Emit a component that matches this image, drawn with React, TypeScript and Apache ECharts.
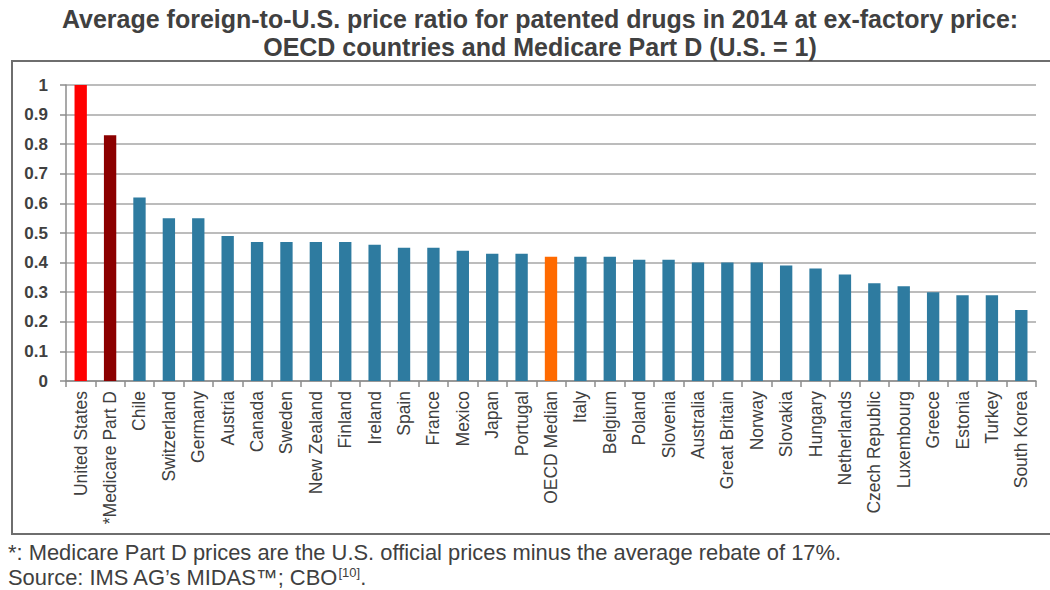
import React, { useEffect, useRef } from "react";
import * as echarts from "echarts";

const countries = [
  "United States", "*Medicare Part D", "Chile", "Switzerland", "Germany", "Austria", "Canada",
  "Sweden", "New Zealand", "Finland", "Ireland", "Spain", "France", "Mexico", "Japan", "Portugal",
  "OECD Median", "Italy", "Belgium", "Poland", "Slovenia", "Australia", "Great Britain", "Norway",
  "Slovakia", "Hungary", "Netherlands", "Czech Republic", "Luxembourg", "Greece", "Estonia",
  "Turkey", "South Korea",
];
const ratios = [
  1.0, 0.83, 0.62, 0.55, 0.55, 0.49, 0.47, 0.47, 0.47, 0.47, 0.46, 0.45, 0.45, 0.44, 0.43, 0.43,
  0.42, 0.42, 0.42, 0.41, 0.41, 0.4, 0.4, 0.4, 0.39, 0.38, 0.36, 0.33, 0.32, 0.3, 0.29, 0.29, 0.24,
];
const specialColors: Record<string, string> = {
  "United States": "#ff0000",
  "*Medicare Part D": "#8b0000",
  "OECD Median": "#ff6a00",
};
const defaultColor = "#2e7ba0";

const titleLines = [
  "Average foreign-to-U.S. price ratio for patented drugs in 2014 at ex-factory price:",
  "OECD countries and Medicare Part D (U.S. = 1)",
];
const footnote = "*: Medicare Part D prices are the U.S. official prices minus the average rebate of 17%.";

const sans = "'Liberation Sans', Arial, sans-serif";

export default function App() {
  const ref = useRef<HTMLDivElement>(null);
  useEffect(() => {
    document.body.style.margin = "0";
    const chart = echarts.init(ref.current!, undefined, { renderer: "svg" });
    chart.setOption({
      animation: false,
      backgroundColor: "#ffffff",
      graphic: [
        {
          type: "rect",
          shape: { x: 12, y: 61, width: 1045, height: 473 },
          style: { fill: "none", stroke: "#6e6e6e", lineWidth: 2 },
          silent: true,
        },
        {
          type: "text",
          x: 540,
          y: 6,
          style: {
            text: titleLines[0],
            font: `bold 25px ${sans}`,
            fill: "#404040",
            textAlign: "center",
          },
        },
        {
          type: "text",
          x: 540,
          y: 34,
          style: {
            text: titleLines[1],
            font: `bold 25px ${sans}`,
            fill: "#404040",
            textAlign: "center",
          },
        },
        {
          type: "text",
          x: 8,
          y: 541,
          style: {
            text: footnote,
            font: `21.9px ${sans}`,
            fill: "#404040",
          },
        },
        {
          type: "text",
          x: 8,
          y: 566,
          style: {
            rich: {
              n: { font: `21.9px ${sans}`, fill: "#404040" },
              s: { font: `13px ${sans}`, fill: "#404040", verticalAlign: "top", padding: [0, 0, 10, 0] },
            },
            text: "{n|Source: IMS AG\u2019s MIDAS\u2122; CBO}{s|[10]}{n|.}",
          },
        },
      ],
      grid: { left: 66, right: 14, top: 85, bottom: 209, containLabel: false },
      xAxis: {
        type: "category",
        data: countries,
        boundaryGap: true,
        axisLine: { lineStyle: { color: "#8c8c8c", width: 1.5 } },
        axisTick: { show: true, interval: 0, length: 6, lineStyle: { color: "#8c8c8c", width: 1.5 } },
        axisLabel: {
          interval: 0,
          rotate: 90,
          margin: 10,
          color: "#404040",
          fontFamily: sans,
          fontSize: 17.5,
        },
      },
      yAxis: {
        type: "value",
        min: 0,
        max: 1,
        interval: 0.1,
        axisLine: { show: true, lineStyle: { color: "#8c8c8c", width: 1.5 } },
        axisTick: { show: true, length: 6, lineStyle: { color: "#8c8c8c", width: 1.5 } },
        splitLine: { lineStyle: { color: "#a6a6a6", width: 1.5 } },
        axisLabel: {
          color: "#404040",
          fontFamily: sans,
          fontWeight: "bold",
          fontSize: 17,
          margin: 18,
        },
      },
      series: [
        {
          type: "bar",
          barWidth: "42%",
          data: countries.map((c, i) => ({
            value: ratios[i],
            itemStyle: { color: specialColors[c] || defaultColor },
          })),
        },
      ],
    });
    return () => chart.dispose();
  }, []);
  return <div ref={ref} style={{ width: 1050, height: 590 }} />;
}
